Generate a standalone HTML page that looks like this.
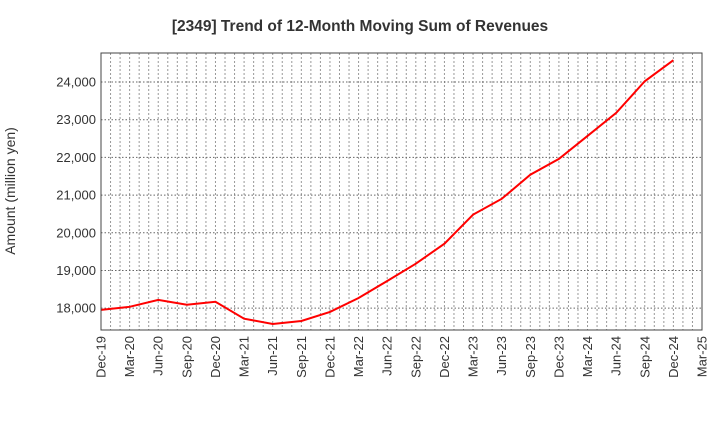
<!DOCTYPE html>
<html><head><meta charset="utf-8"><style>
body{margin:0;background:#fff;font-family:"Liberation Sans",sans-serif;}
</style></head><body>
<svg id="c" width="720" height="440" xmlns="http://www.w3.org/2000/svg" font-family="Liberation Sans, sans-serif">
<text x="360" y="31" text-anchor="middle" font-size="15.5" font-weight="bold" fill="#333">[2349]  Trend of 12-Month Moving Sum of Revenues</text>
<text transform="translate(19,191) rotate(-90)" text-anchor="middle" font-size="14" fill="#333" x="0" dx="0" dy="-4">Amount (million yen)</text>
<g id="grid"></g><g id="ticks"></g><g id="series"></g>
<rect x="101" y="53" width="601" height="277" fill="none" stroke="#444" stroke-width="1"/>
</svg>
<script>
const categories=["Dec-19","Mar-20","Jun-20","Sep-20","Dec-20","Mar-21","Jun-21","Sep-21","Dec-21","Mar-22","Jun-22","Sep-22","Dec-22","Mar-23","Jun-23","Sep-23","Dec-23","Mar-24","Jun-24","Sep-24","Dec-24","Mar-25"];
const revenues=[17955,18035,18220,18090,18170,17720,17580,17660,17900,18270,18720,19180,19710,20480,20900,21540,21960,22570,23180,24020,24580];
const yTicks=[18000,19000,20000,21000,22000,23000,24000];
const ns="http://www.w3.org/2000/svg";
const L=101,R=702,T=53,B=330,yMin=17420,yMax=24770;
const x=i=>L+(R-L)*i/(categories.length-1);
const y=v=>B-(v-yMin)/(yMax-yMin)*(B-T);
function mk(t,a,p){const e=document.createElementNS(ns,t);for(const k in a)e.setAttribute(k,a[k]);p.appendChild(e);return e;}
const g=document.getElementById('grid'),tk=document.getElementById('ticks'),s=document.getElementById('series');
const months=(categories.length-1)*3;
for(let m=1;m<months;m++){const xx=L+(R-L)*m/months;
const ln=mk('line',{x1:xx,x2:xx,y1:T,y2:B,stroke:'#999','stroke-dasharray':'2,2','stroke-width':1},g);

}
yTicks.forEach(v=>{const yy=y(v);
const ln=mk('line',{x1:L,x2:R,y1:yy,y2:yy,stroke:'#666','stroke-dasharray':'1.5,2','stroke-width':1},g);


const t=mk('text',{x:L-5,y:yy+4.5,'text-anchor':'end','font-size':13,fill:'#333'},tk);t.textContent=v.toLocaleString('en-US');

});
categories.forEach((c,i)=>{const xx=x(i);
const t=mk('text',{transform:`translate(${xx+4.5},${B+6}) rotate(-90)`,'text-anchor':'end','font-size':13,fill:'#333'},tk);t.textContent=c;

});
const pl=mk('polyline',{points:revenues.map((v,i)=>x(i)+','+y(v)).join(' '),fill:'none',stroke:'#f00','stroke-width':2},s);


</script>
</body></html>
